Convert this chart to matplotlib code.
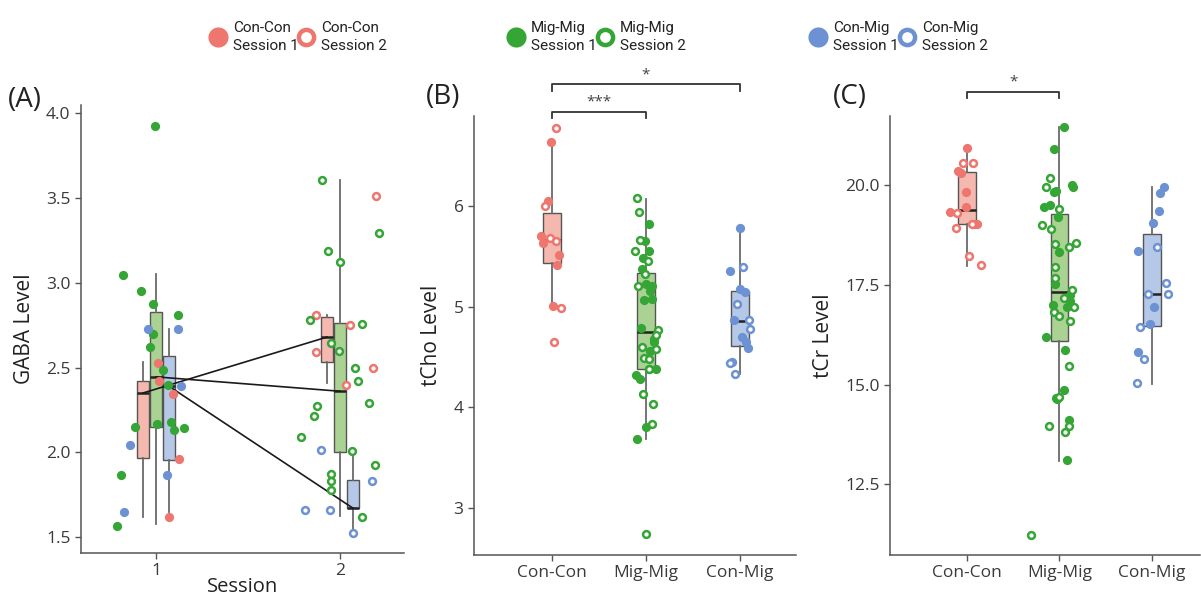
import matplotlib
matplotlib.use("Agg")
import matplotlib.pyplot as plt
import numpy as np

plt.rcParams['font.family'] = ['Open Sans', 'DejaVu Sans']

# ---------------- categories / styling keys ----------------
groups = ["Con-Con", "Mig-Mig", "Con-Mig"]
sessions = [1, 2]
point_col = {"Con-Con": "#EE766E", "Mig-Mig": "#35A536", "Con-Mig": "#6C92D4"}
box_col = {"Con-Con": "#F5B8AF", "Mig-Mig": "#AAD292", "Con-Mig": "#B6C8E8"}

# ---------------- Panel A: GABA (by session) ----------------
# box stats: [whisker low, q1, median, q3, whisker high]
gaba_box_concon_s1 = [1.62, 1.965, 2.35, 2.42, 2.53]
gaba_box_migmig_s1 = [1.575, 2.15, 2.445, 2.83, 3.05]
gaba_box_conmig_s1 = [1.65, 1.955, 2.39, 2.57, 2.73]
gaba_box_concon_s2 = [2.41, 2.53, 2.68, 2.80, 2.81]
gaba_box_migmig_s2 = [1.625, 2.0, 2.36, 2.765, 3.61]
gaba_box_conmig_s2 = [1.52, 1.67, 1.67, 1.835, 2.0]

# points: jitter offset from session position, value
gaba_concon_s1_dx = [0.009, 0.018, 0.094, 0.125, 0.069]
gaba_concon_s1_y = [2.528, 2.418, 2.341, 1.959, 1.616]
gaba_migmig_s1_dx = [-0.005, -0.178, -0.083, -0.015, 0.121, -0.015, -0.031, 0.038,
                     0.067, -0.114, 0.004, 0.080, 0.098, 0.154, -0.190, -0.210]
gaba_migmig_s1_y = [3.925, 3.044, 2.952, 2.877, 2.812, 2.696, 2.619, 2.483,
                    2.394, 2.148, 2.168, 2.180, 2.132, 2.142, 1.867, 1.567]
gaba_conmig_s1_dx = [-0.042, 0.118, 0.136, -0.141, 0.060, -0.174]
gaba_conmig_s1_y = [2.725, 2.725, 2.390, 2.040, 1.867, 1.650]

gaba_concon_s2_dx = [0.194, -0.129, 0.056, -0.129, 0.178, 0.034]
gaba_concon_s2_y = [3.515, 2.810, 2.750, 2.593, 2.497, 2.396]
gaba_migmig_s2_dx = [-0.100, 0.214, -0.067, 0.000, -0.163, 0.118, -0.049, -0.005, 0.083, 0.096,
                     0.159, -0.123, -0.141, -0.212, 0.067, 0.190, -0.051, -0.051, -0.051, 0.121]
gaba_migmig_s2_y = [3.606, 3.294, 3.190, 3.125, 2.780, 2.755, 2.647, 2.600, 2.500, 2.418,
                    2.292, 2.272, 2.215, 2.087, 2.006, 1.926, 1.870, 1.833, 1.778, 1.618]
gaba_conmig_s2_dx = [-0.102, 0.172, -0.190, -0.054, 0.071]
gaba_conmig_s2_y = [2.014, 1.830, 1.660, 1.657, 1.521]

# ---------------- Panel B: tCho (by group) ----------------
tcho_box_concon = [5.005, 5.434, 5.66, 5.93, 6.64]
tcho_box_migmig = [3.69, 4.385, 4.747, 5.335, 6.07]
tcho_box_conmig = [4.331, 4.614, 4.862, 5.155, 5.779]

tcho_concon_s1_dx = [-0.011, -0.043, -0.121, -0.096, 0.075, 0.050, 0.007]
tcho_concon_s1_y = [6.640, 6.046, 5.702, 5.633, 5.510, 5.410, 5.005]
tcho_concon_s2_dx = [0.046, -0.071, -0.021, 0.039, 0.100, 0.018]
tcho_concon_s2_y = [6.776, 6.003, 5.682, 5.656, 4.982, 4.651]

tcho_migmig_s1_dx = [0.036, -0.007, 0.039, -0.025, -0.039, 0.068, 0.046, -0.014, 0.071, -0.054,
                     0.086, 0.086, 0.040, 0.032, 0.104, -0.100, -0.061, 0.000, -0.093, 0.000]
tcho_migmig_s1_y = [5.821, 5.648, 5.555, 5.486, 5.379, 5.210, 5.159, 5.062, 5.072, 4.786,
                    4.683, 4.648, 4.562, 4.383, 4.383, 4.321, 4.286, 3.803, 3.683, 5.228]
tcho_migmig_s2_dx = [-0.089, -0.068, -0.057, -0.118, 0.025, -0.007, -0.079, 0.125, -0.039,
                     0.111, -0.021, 0.032, 0.039, -0.029, 0.082, 0.068, 0.000, 0.110]
tcho_migmig_s2_y = [6.076, 5.945, 5.662, 5.555, 5.455, 5.324, 5.207, 4.769, 4.603,
                    4.579, 4.493, 4.476, 4.383, 4.131, 4.034, 3.831, 2.745, 4.720]

tcho_conmig_s1_dx = [0.000, -0.100, 0.000, 0.057, -0.060, 0.021, 0.068, 0.093]
tcho_conmig_s1_y = [5.785, 5.353, 5.172, 5.142, 4.871, 4.700, 4.647, 4.587]
tcho_conmig_s2_dx = [0.032, -0.025, 0.100, 0.110, -0.078, -0.100, -0.053]
tcho_conmig_s2_y = [5.393, 5.026, 4.865, 4.782, 4.449, 4.440, 4.330]

# ---------------- Panel C: tCr (by group) ----------------
tcr_box_concon = [17.98, 19.035, 19.368, 20.333, 20.88]
tcr_box_migmig = [13.09, 16.10, 17.31, 19.27, 21.46]
tcr_box_conmig = [15.02, 16.47, 17.28, 18.77, 19.96]

tcr_concon_s1_dx = [0.007, -0.094, -0.065, -0.007, -0.007, -0.177, 0.112, 0.090]
tcr_concon_s1_y = [20.93, 20.35, 20.31, 19.825, 19.45, 19.32, 19.03, 19.03]
tcr_concon_s2_dx = [-0.043, 0.068, -0.105, -0.112, 0.058, 0.025, 0.148]
tcr_concon_s2_y = [20.55, 20.55, 19.29, 18.92, 19.03, 18.21, 18.00]

tcr_migmig_s1_dx = [0.054, -0.061, 0.137, 0.148, -0.061, -0.032, -0.162, -0.097, -0.014, -0.007, -0.050,
                    -0.068, 0.119, 0.083, 0.110, -0.144, 0.058, 0.054, -0.032, -0.020, 0.105, 0.083]
tcr_migmig_s1_y = [21.45, 20.90, 20.00, 19.96, 19.83, 19.86, 19.44, 19.50, 19.21, 18.31, 17.51,
                   17.00, 17.25, 16.95, 17.10, 16.18, 15.87, 14.86, 14.67, 14.64, 14.11, 13.12]
tcr_migmig_s2_dx = [-0.105, -0.140, 0.000, -0.184, -0.086, -0.043, 0.105, 0.184, -0.043, -0.043, 0.137,
                    0.054, 0.162, -0.058, 0.000, 0.119, 0.108, 0.000, -0.115, 0.105, 0.058, -0.303]
tcr_migmig_s2_y = [20.17, 19.96, 19.40, 19.00, 18.89, 18.53, 18.44, 18.56, 17.95, 17.66, 17.37,
                   17.16, 16.95, 16.82, 16.73, 16.59, 15.47, 14.70, 13.96, 13.96, 13.82, 11.24]

tcr_conmig_s1_dx = [0.133, 0.086, 0.072, 0.007, -0.148, 0.018, -0.022, -0.155]
tcr_conmig_s1_y = [19.945, 19.795, 19.36, 19.05, 18.35, 16.95, 16.51, 15.81]
tcr_conmig_s2_dx = [0.050, 0.148, -0.047, 0.169, -0.123, -0.086, -0.162]
tcr_conmig_s2_y = [18.45, 17.55, 17.28, 17.26, 16.45, 15.63, 15.05]

# significance annotations: (group i, group j, bracket height, label)
tcho_sig = [(0, 1, 6.93, "***"), (0, 2, 7.207, "*")]
tcr_sig = [(0, 1, 22.34, "*")]

# ---------------- figure ----------------
W, H = 1201, 595
fig = plt.figure(figsize=(W / 100, H / 100), dpi=100)

def ax_px(l, t, r, b):
    return fig.add_axes([l / W, 1 - b / H, (r - l) / W, (b - t) / H])

axA = ax_px(81, 105, 404, 553)
axB = ax_px(474, 116, 796, 555)
axC = ax_px(890, 116, 1200, 555)

EDGE = "#555555"

def style(ax):
    for s in ["top", "right"]:
        ax.spines[s].set_visible(False)
    for s in ["left", "bottom"]:
        ax.spines[s].set_color(EDGE)
        ax.spines[s].set_linewidth(1.1)
    ax.tick_params(colors=EDGE, length=4, width=1, labelsize=12.5, labelcolor="#3a3a3a")

def draw_box(ax, pos, st, width, fill):
    stats = [dict(whislo=st[0], q1=st[1], med=st[2], q3=st[3], whishi=st[4], fliers=[])]
    ax.bxp(stats, positions=[pos], widths=width, patch_artist=True, showcaps=False,
           showfliers=False, manage_ticks=False,
           boxprops=dict(facecolor=fill, edgecolor=EDGE, linewidth=1.0),
           whiskerprops=dict(color="#6a6a6a", linewidth=1.3),
           medianprops=dict(color="#222222", linewidth=1.8), zorder=2)

def draw_pts(ax, pos, dx, y, col, hollow):
    xs = pos + np.asarray(dx)
    if hollow:
        ax.scatter(xs, y, s=24, facecolor="white", edgecolor=col, linewidths=1.8, zorder=4)
    else:
        ax.scatter(xs, y, s=44, facecolor=col, edgecolor=col, linewidths=0, zorder=4)

# ---- Panel A ----
dodge = {"Con-Con": -0.07, "Mig-Mig": 0.0, "Con-Mig": 0.07}
boxesA = {
    ("Con-Con", 1): gaba_box_concon_s1, ("Mig-Mig", 1): gaba_box_migmig_s1, ("Con-Mig", 1): gaba_box_conmig_s1,
    ("Con-Con", 2): gaba_box_concon_s2, ("Mig-Mig", 2): gaba_box_migmig_s2, ("Con-Mig", 2): gaba_box_conmig_s2,
}
ptsA = {
    ("Con-Con", 1): (gaba_concon_s1_dx, gaba_concon_s1_y), ("Mig-Mig", 1): (gaba_migmig_s1_dx, gaba_migmig_s1_y),
    ("Con-Mig", 1): (gaba_conmig_s1_dx, gaba_conmig_s1_y), ("Con-Con", 2): (gaba_concon_s2_dx, gaba_concon_s2_y),
    ("Mig-Mig", 2): (gaba_migmig_s2_dx, gaba_migmig_s2_y), ("Con-Mig", 2): (gaba_conmig_s2_dx, gaba_conmig_s2_y),
}
for (g, s), st in boxesA.items():
    draw_box(axA, s + dodge[g], st, 0.065, box_col[g])
for g in groups:
    xs = [s + dodge[g] for s in sessions]
    ys = [boxesA[(g, s)][2] for s in sessions]
    axA.plot(xs, ys, color="#1a1a1a", lw=1.2, zorder=3)
for (g, s), (dx, y) in ptsA.items():
    draw_pts(axA, s, dx, y, point_col[g], hollow=(s == 2))
axA.set_xlim(0.592, 2.348)
axA.set_ylim(1.405, 4.05)
axA.set_xticks(sessions)
axA.set_xticklabels([str(s) for s in sessions])
axA.set_yticks([1.5, 2.0, 2.5, 3.0, 3.5, 4.0])
axA.set_yticklabels(["%.1f" % v for v in [1.5, 2.0, 2.5, 3.0, 3.5, 4.0]])
axA.set_ylabel("GABA Level", fontsize=15, color="#222222", labelpad=8)
axA.set_xlabel("Session", fontsize=14.5, color="#222222", labelpad=-2)
style(axA)

# ---- Panels B & C ----
def group_panel(ax, boxes, pts, ylim, yticks, fmt, ylabel, sigs, sig_drop):
    for i, g in enumerate(groups):
        draw_box(ax, i, boxes[i], 0.19, box_col[g])
    for i, g in enumerate(groups):
        (dx1, y1), (dx2, y2) = pts[i]
        draw_pts(ax, i, dx1, y1, point_col[g], hollow=False)
        draw_pts(ax, i, dx2, y2, point_col[g], hollow=True)
    ax.set_xlim(-0.83, 2.6)
    ax.set_ylim(*ylim)
    ax.set_xticks(range(len(groups)))
    ax.set_xticklabels(groups)
    ax.set_yticks(yticks)
    ax.set_yticklabels([fmt % v for v in yticks])
    ax.set_ylabel(ylabel, fontsize=15, color="#222222", labelpad=8)
    style(ax)
    for i, j, h, lab in sigs:
        ax.plot([i, i, j, j], [h - sig_drop, h, h, h - sig_drop], color="#333333", lw=1.3,
                clip_on=False, zorder=5)
        ax.text((i + j) / 2, h + sig_drop * 0.4, lab, ha="center", va="bottom", fontsize=11,
                color="#444444", clip_on=False)

group_panel(axB, [tcho_box_concon, tcho_box_migmig, tcho_box_conmig],
            [((tcho_concon_s1_dx, tcho_concon_s1_y), (tcho_concon_s2_dx, tcho_concon_s2_y)),
             ((tcho_migmig_s1_dx, tcho_migmig_s1_y), (tcho_migmig_s2_dx, tcho_migmig_s2_y)),
             ((tcho_conmig_s1_dx, tcho_conmig_s1_y), (tcho_conmig_s2_dx, tcho_conmig_s2_y))],
            (2.533, 6.894), [3, 4, 5, 6], "%d", "tCho Level", tcho_sig, 0.06)

group_panel(axC, [tcr_box_concon, tcr_box_migmig, tcr_box_conmig],
            [((tcr_concon_s1_dx, tcr_concon_s1_y), (tcr_concon_s2_dx, tcr_concon_s2_y)),
             ((tcr_migmig_s1_dx, tcr_migmig_s1_y), (tcr_migmig_s2_dx, tcr_migmig_s2_y)),
             ((tcr_conmig_s1_dx, tcr_conmig_s1_y), (tcr_conmig_s2_dx, tcr_conmig_s2_y))],
            (10.73, 21.73), [12.5, 15.0, 17.5, 20.0], "%.1f", "tCr Level", tcr_sig, 0.15)
axC.set_xlim(-0.83, 2.52)

# ---- panel letters ----
for lab, x, y in [("(A)", 8, 100), ("(B)", 426, 97), ("(C)", 833, 97)]:
    fig.text(x / W, 1 - y / H, lab, fontsize=20, va="center", ha="left", color="#222222")

# ---- legend ----
lax = fig.add_axes([0, 0, 1, 1], zorder=10)
lax.set_xlim(0, W)
lax.set_ylim(H, 0)
lax.axis("off")
leg_x = [218, 306, 516, 605, 818, 907]
k = 0
for g in groups:
    for s in sessions:
        x = leg_x[k]
        if s == 1:
            lax.scatter([x], [37], s=210, facecolor=point_col[g], edgecolor=point_col[g], linewidths=0)
        else:
            lax.scatter([x], [37], s=120, facecolor="white", edgecolor=point_col[g], linewidths=3.2)
        lax.text(x + 15, 37, f"{g}\nSession {s}", fontsize=11, va="center", ha="left",
                 color="#222222", family=["Roboto", "DejaVu Sans"], linespacing=1.4)
        k += 1

fig.savefig("out.png", dpi=100)
